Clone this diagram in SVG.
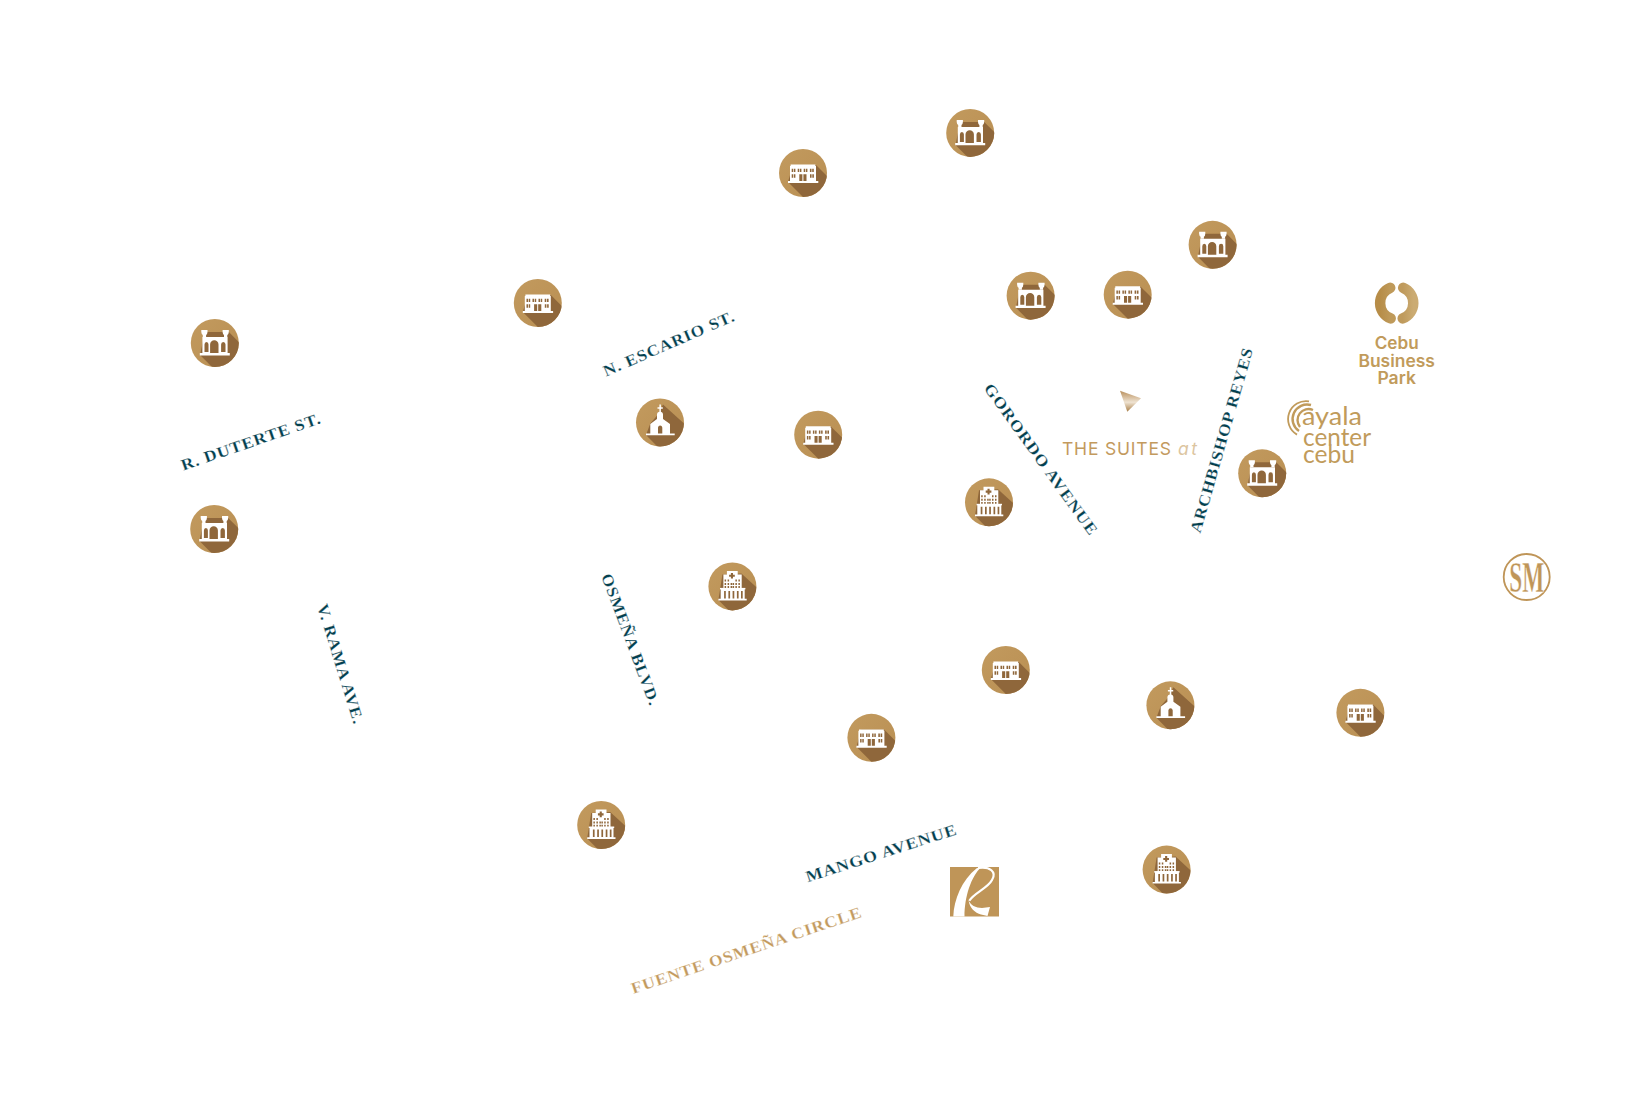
<svg xmlns="http://www.w3.org/2000/svg" width="1647" height="1109" viewBox="0 0 1647 1109">
<style>
.road{font-family:"Liberation Serif",serif;font-size:16px;font-weight:700;letter-spacing:.8px;fill:#03404f;stroke:#fff;stroke-width:.2px}
.w{fill:#fff}
.b{fill:#8f673b}
.s{fill:#8f673b}
.logo{font-family:"Inter","Liberation Sans",sans-serif;fill:#c19b5b;font-size:17px;font-weight:600;text-anchor:middle}
.ay{font-family:"Lato","Liberation Sans",sans-serif;font-weight:400;fill:#c19b5b;font-size:25px}
</style>
<defs>
<linearGradient id="disc" x1="0" y1="0" x2="1" y2="1"><stop offset="0" stop-color="#c29a5e"/><stop offset="1" stop-color="#b98f53"/></linearGradient>
<linearGradient id="tri" x1="0" y1="0" x2="0" y2="1"><stop offset="0" stop-color="#b98f5c"/><stop offset=".55" stop-color="#efe3d2"/><stop offset="1" stop-color="#a97f48"/></linearGradient>
<linearGradient id="ringL" x1="0" y1="0" x2="1" y2="0"><stop offset="0" stop-color="#b78d48"/><stop offset="1" stop-color="#bf9a5a"/></linearGradient>
<linearGradient id="ringR" x1="0" y1="0" x2="1" y2="0"><stop offset="0" stop-color="#bf9a5c"/><stop offset="1" stop-color="#cbab72"/></linearGradient>
<clipPath id="cc"><circle r="24"/></clipPath>
<g id="fort">
<circle r="24" fill="url(#disc)"/>
<polygon class="s" clip-path="url(#cc)" points="-14.7,12 25,52 50,52 50,25 14,-11 -10,-11"/>
<path class="w" d="M-15,10H15V12.4H-15ZM-12.400,-6H12.800V10H-12.400Z"/>
<path class="w" d="M-13.500,-13H-7.300V-11Q-7.500,-8.500 -8.700,-8V-6H-12V-8Q-13.300,-8.500 -13.500,-11ZM7.800,-13H14V-11Q13.800,-8.500 12.500,-8V-6H9.200V-8Q8,-8.500 7.800,-11Z"/>
<path class="b" d="M-4.700,10V1.500A4.200,4.200 0 0 1 3.700,1.500V10ZM-10.300,9V1.500A2,2.500 0 0 1 -6.300,1.500V9ZM6.300,9V1.500A2.200,2.500 0 0 1 10.700,1.500V9Z"/>
</g>
<g id="shop">
<circle r="24" fill="url(#disc)"/>
<polygon class="s" clip-path="url(#cc)" points="-15,9 30,54 55,54 55,34 13,-8 -10,-8"/>
<path class="w" d="M-15,8H15.300V10H-15ZM-13,-7H13V8H-13ZM-12.400,-8.400H12.400V-6.600H-12.400Z"/>
<path class="b" d="M-11.300,-4.300h1.500v3.400h-1.500ZM-9.100,-4.300h1.500v3.400h-1.500ZM-5.300,-4.300h1.500v3.400h-1.500ZM-3.100,-4.300h1.500v3.400h-1.500ZM.7,-4.300h1.500v3.400h-1.500ZM2.900,-4.300h1.500v3.400h-1.500ZM6.900,-4.300h1.600v3.400h-1.600ZM9.200,-4.300h1.600v3.400h-1.600ZM-11.300,1.300h1.500v3.400h-1.500ZM-9.100,1.300h1.500v3.400h-1.500ZM7,1.300h1.600v3.400h-1.600ZM9.300,1.300h1.600v3.400h-1.600ZM-3.700,1.300h3.100v6.700h-3.100ZM.400,1.300h3.100v6.700h-3.100Z"/>
</g>
<g id="church">
<circle r="24" fill="url(#disc)"/>
<polygon class="s" clip-path="url(#cc)" points="-14,12.500 25,52 55,52 55,29 3,-18 -2,-8 -9.700,1"/>
<path class="w" d="M-14,11H14.700V12.800H-14ZM-9.700,11V1.500L-3,-3.500V-8Q-3,-10.500 0,-11Q3,-10.500 3,-8V-3.500L10,1.500V11Z"/>
<path class="w" d="M-.6,-18H.9V-10H-.6ZM-2.500,-15.200H2.800V-13.800H-2.500Z"/>
<path class="b" d="M-2,11V5A2.200,2.500 0 0 1 2.300,5V11Z"/>
</g>
<g id="hospital">
<circle r="24" fill="url(#disc)"/>
<polygon class="s" clip-path="url(#cc)" points="-14,13.500 25,53 55,53 55,29 9,-13 -10,-12"/>
<path class="w" d="M-14,12.300H14.300V14H-14ZM-11.700,2H12.300V12.300H-11.700ZM-9,-12H9.300V2H-9ZM-5.500,-15.500H5.300V-12H-5.500Z"/>
<path class="w" d="M-12.400,1.500H13V3H-12.400Z"/>
<path class="b" d="M-8.300,4.500h1.700v7.500h-1.700ZM-4,4.500h1.700v7.500h-1.700ZM.2,4.500h1.700v7.500h-1.700ZM4.500,4.500h1.700v7.500h-1.700ZM8.600,4.500h1.700v7.500h-1.700Z"/>
<path class="b" d="M-1.500,-13.500h2.100v1.800h1.800v2.100h-1.800v1.800h-2.100v-1.800h-1.800v-2.100h1.800Z"/>
<path class="b" d="M-7.800,-7h1.500v2h-1.500ZM-4.800,-7h1.500v2h-1.500ZM3,-7h1.500v2h-1.500ZM6,-7h1.500v2h-1.500ZM-7.800,-3.500h1.500v2h-1.500ZM-4.800,-3.500h1.500v2h-1.500ZM-1.800,-3.500h1.500v2h-1.500ZM.2,-3.500h1.500v2h-1.500ZM3,-3.500h1.500v2h-1.500ZM6,-3.500h1.500v2h-1.500ZM-7.800,-.3h1.500v1.800h-1.500ZM-4.800,-.3h1.500v1.800h-1.500ZM-1.800,-.3h1.500v1.800h-1.500ZM.2,-.3h1.500v1.800h-1.500ZM3,-.3h1.500v1.800h-1.500ZM6,-.3h1.500v1.800h-1.500Z"/>
</g>
</defs>
<rect width="1647" height="1109" fill="#fff"/>

<g id="node-fort-1"><use href="#fort" x="214.800" y="343"/></g>
<g id="node-fort-2"><use href="#fort" x="214.200" y="529"/></g>
<g id="node-fort-3"><use href="#fort" x="970.200" y="132.900"/></g>
<g id="node-fort-4"><use href="#fort" x="1212.600" y="244.800"/></g>
<g id="node-fort-5"><use href="#fort" x="1030.600" y="295.700"/></g>
<g id="node-fort-6"><use href="#fort" x="1262.200" y="473.300"/></g>
<g id="node-shop-1"><use href="#shop" x="803" y="173"/></g>
<g id="node-shop-2"><use href="#shop" x="537.800" y="303"/></g>
<g id="node-shop-3"><use href="#shop" x="1127.700" y="294.700"/></g>
<g id="node-shop-4"><use href="#shop" x="818.200" y="434.700"/></g>
<g id="node-shop-5"><use href="#shop" x="1005.800" y="670"/></g>
<g id="node-shop-6"><use href="#shop" x="871.400" y="737.800"/></g>
<g id="node-shop-7"><use href="#shop" x="1360.400" y="712.800"/></g>
<g id="node-church-1"><use href="#church" x="660" y="422.500"/></g>
<g id="node-church-2"><use href="#church" x="1170.400" y="705.300"/></g>
<g id="node-hospital-1"><use href="#hospital" x="989" y="502.300"/></g>
<g id="node-hospital-2"><use href="#hospital" x="732.400" y="586.400"/></g>
<g id="node-hospital-3"><use href="#hospital" x="601.200" y="825"/></g>
<g id="node-hospital-4"><use href="#hospital" x="1166.600" y="869.600"/></g>

<g id="road-labels">
<text class="road" transform="translate(183.300,470.700) rotate(-19)" textLength="147" lengthAdjust="spacingAndGlyphs">R. DUTERTE ST.</text>
<text class="road" transform="translate(606,376.700) rotate(-23.500)" textLength="142" lengthAdjust="spacingAndGlyphs">N. ESCARIO ST.</text>
<text class="road" transform="translate(983.300,388.300) rotate(54.300)" textLength="183" lengthAdjust="spacingAndGlyphs">GORORDO AVENUE</text>
<text class="road" transform="translate(1200.300,533.700) rotate(-74)" textLength="192" lengthAdjust="spacingAndGlyphs">ARCHBISHOP REYES</text>
<text class="road" transform="translate(601,576) rotate(69.500)" textLength="140" lengthAdjust="spacingAndGlyphs">OSMEÑA BLVD.</text>
<text class="road" transform="translate(317,606) rotate(72.800)" textLength="125" lengthAdjust="spacingAndGlyphs">V. RAMA AVE.</text>
<text class="road" transform="translate(807.700,882.300) rotate(-17.800)" textLength="158" lengthAdjust="spacingAndGlyphs">MANGO AVENUE</text>
<text class="road" style="fill:#c39a5e" transform="translate(633.300,994) rotate(-18.600)" textLength="242.500" lengthAdjust="spacingAndGlyphs">FUENTE OSMEÑA CIRCLE</text>
</g>

<g id="node-suites">
<polygon points="1120,390.700 1141,398.300 1127.300,411.700" fill="url(#tri)"/>
<text x="1062" y="455" font-family="Inter,'Liberation Sans',sans-serif" font-size="17.500" fill="#c39a5e" textLength="109">THE SUITES</text>
<text x="1178" y="455" font-family="Inter,'Liberation Sans',sans-serif" font-size="17.500" font-style="italic" fill="#dcc5a0" textLength="19">at</text>
</g>

<g id="node-cebu-business-park">
<g transform="translate(1396.700,303)" fill="none" stroke-width="10.500" stroke-linecap="round">
<path d="M-6.500,-15.200A16.500,16.500 0 0 0 -6,15.400" stroke="url(#ringL)"/>
<path d="M6.500,-15.200A16.500,16.500 0 0 1 6,15.400" stroke="url(#ringR)"/>
</g>
<text class="logo" x="1396.700" y="349" textLength="44" lengthAdjust="spacingAndGlyphs">Cebu</text>
<text class="logo" x="1396.700" y="366.500" textLength="76.500" lengthAdjust="spacingAndGlyphs">Business</text>
<text class="logo" x="1396.700" y="383.500" textLength="38.500" lengthAdjust="spacingAndGlyphs">Park</text>
</g>

<g id="node-ayala">
<g fill="none" stroke="#c19b5b">
<path d="M1309,401.300A18,18 0 0 0 1297,434.600" stroke-width="1.800"/>
<path d="M1311,405A14.500,14.500 0 0 0 1299,431" stroke-width="2.400"/>
<path d="M1313,410A11,11 0 0 0 1300,427" stroke-width="2.400"/>
</g>
<text class="ay" x="1302" y="425" textLength="60" lengthAdjust="spacingAndGlyphs">ayala</text>
<text class="ay" x="1303" y="445.500" textLength="68" lengthAdjust="spacingAndGlyphs">center</text>
<text class="ay" x="1303" y="463" textLength="52" lengthAdjust="spacingAndGlyphs">cebu</text>
</g>

<g id="node-sm">
<circle cx="1526.700" cy="577" r="23" fill="none" stroke="#bf9558" stroke-width="1.800"/>
<text x="1526.700" y="591.700" font-family="'Liberation Serif',serif" font-size="45" font-weight="700" fill="#bf9558" stroke="#fff" stroke-width=".4" text-anchor="middle" textLength="35" lengthAdjust="spacingAndGlyphs">SM</text>
</g>

<g id="node-robinsons">
<rect x="950" y="867" width="49" height="49.500" fill="#bf9558"/>
<path fill="#fff" d="M953.300,916.500C954,900 961.700,880 976.700,868.300L981,867.300C971,877 964.500,896.700 964.500,916.500Z"/>
<path fill="none" stroke="#fff" stroke-width="2.200" d="M978,868C990,866 997,872 992,880C988,888 974,893 969.300,900.700"/>
<path fill="#fff" d="M968.500,900C970,905 976,908 982,908L990,907L987.500,916L981,914.500C975,913 969.500,908 968.500,900Z"/>
</g>
</svg>
